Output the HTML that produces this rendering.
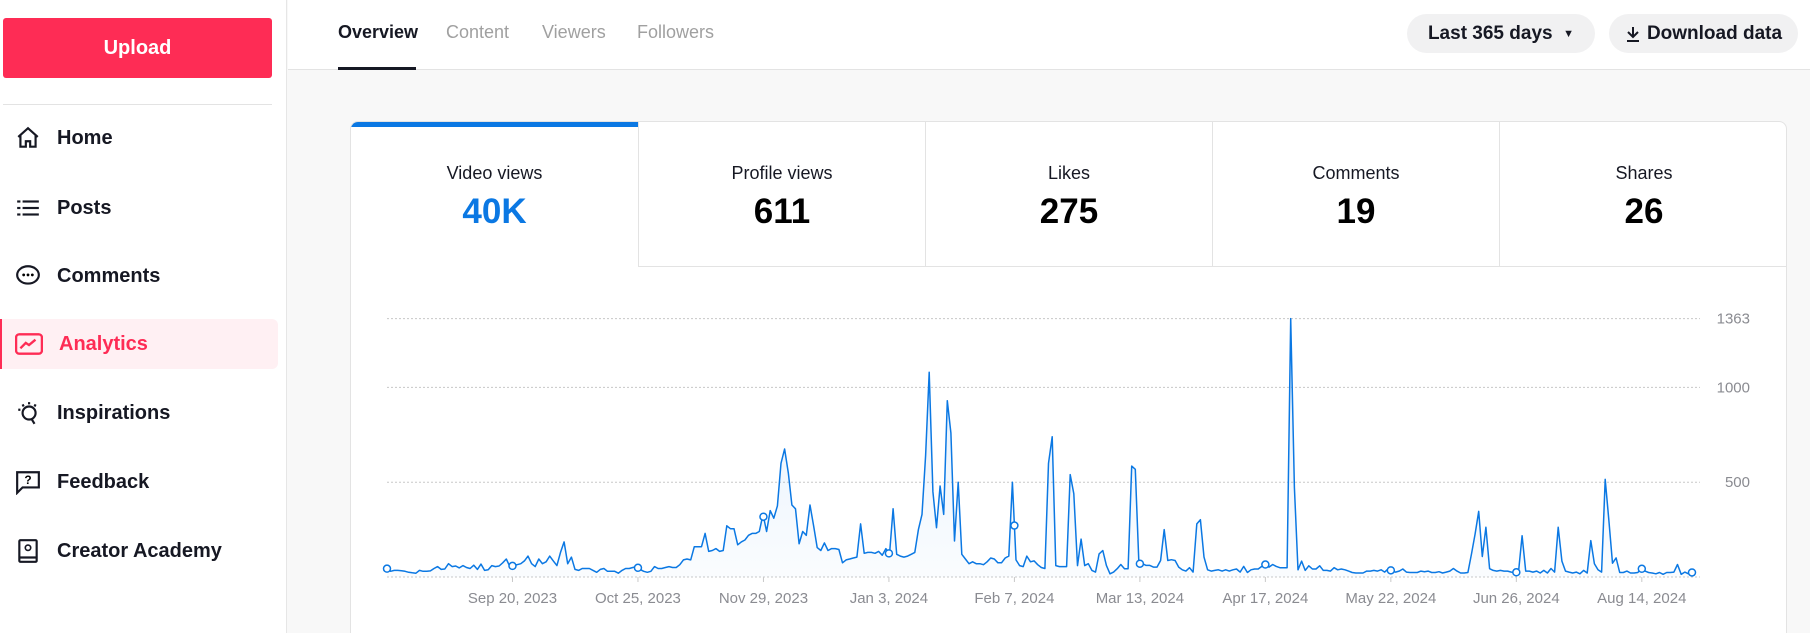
<!DOCTYPE html>
<html><head><meta charset="utf-8">
<style>
*{box-sizing:border-box;margin:0;padding:0}
html,body{width:1810px;height:633px;overflow:hidden}
body{background:#f8f8f8;font-family:"Liberation Sans",sans-serif;position:relative;color:#161823}
.abs{position:absolute}
#sidebar{left:0;top:0;width:287px;height:633px;background:#fff;border-right:1px solid #e6e6e6}
.upload{left:3px;top:18px;width:269px;height:60px;background:#fe2c55;border-radius:3px;color:#fff;font-weight:bold;font-size:20px;display:flex;align-items:center;justify-content:center}
.sep{left:3px;top:104px;width:269px;height:1px;background:#e3e3e3}
.nav{left:0;width:278px;height:50px;display:flex;align-items:center;font-size:20px;font-weight:bold;border-radius:0 6px 6px 0}
.nav svg{position:absolute;left:15px}
.nav span{position:absolute;left:57px}
#header{left:288px;top:0;width:1522px;height:70px;background:#fff;border-bottom:1px solid #e3e3e3}
.tab{top:22px;font-size:18px;color:#a0a0a0}
.pill{top:14px;height:39px;background:#f1f1f2;border-radius:20px;font-size:19px;display:flex;align-items:center;justify-content:center;color:#161823}
#card{left:350px;top:121px;width:1437px;height:540px;background:#fff;border:1px solid #e3e3e3;border-radius:8px;overflow:hidden}
.mt{top:0;width:287px;height:145px;border-left:1px solid #e3e3e3;border-bottom:1px solid #e3e3e3;text-align:center}
.mt .l{position:absolute;top:41px;width:100%;font-size:18px;color:#161823}
.mt .v{position:absolute;top:70px;width:100%;font-size:35px;font-weight:bold;color:#000}
</style></head><body>
<div id="sidebar" class="abs">
 <div class="abs upload">Upload</div>
 <div class="abs sep"></div>
 <div class="abs nav" style="top:113px"><svg width="26" height="26" viewBox="0 0 24 24"><path d="M3 11 L12 3 L21 11 M5 9 V20 H10 V15 H14 V20 H19 V9" fill="none" stroke="#161823" stroke-width="2"/></svg><span>Home</span></div>
 <div class="abs nav" style="top:183px"><svg width="26" height="26" viewBox="0 0 24 24"><g fill="#161823"><rect x="2" y="5" width="3" height="2"/><rect x="7" y="5" width="15" height="2"/><rect x="2" y="11" width="3" height="2"/><rect x="7" y="11" width="15" height="2"/><rect x="2" y="17" width="3" height="2"/><rect x="7" y="17" width="15" height="2"/></g></svg><span>Posts</span></div>
 <div class="abs nav" style="top:251px"><svg width="26" height="26" viewBox="0 0 24 24"><ellipse cx="12" cy="11" rx="10" ry="8" fill="none" stroke="#161823" stroke-width="2"/><circle cx="8" cy="11" r="1.3"/><circle cx="12" cy="11" r="1.3"/><circle cx="16" cy="11" r="1.3"/></svg><span>Comments</span></div>
 <div class="abs nav" style="top:319px;background:#fff0f3;color:#fe2c55;border-left:2px solid #fe2c55"><svg width="28" height="26" viewBox="0 0 26 24" style="left:13px"><rect x="1" y="3" width="24" height="18" rx="3" fill="none" stroke="#fe2c55" stroke-width="2.2"/><path d="M5 16 L10 11 L13 13 L19 8" fill="none" stroke="#fe2c55" stroke-width="2.2"/></svg><span>Analytics</span></div>
 <div class="abs nav" style="top:388px"><svg width="26" height="26" viewBox="0 0 24 24"><circle cx="13" cy="12" r="6" fill="none" stroke="#161823" stroke-width="2"/><path d="M15 17 L18 22" stroke="#161823" stroke-width="2"/><path d="M3 9h2M13 2v2M19 4l-1 2M7 4l1 2" stroke="#161823" stroke-width="2"/></svg><span>Inspirations</span></div>
 <div class="abs nav" style="top:457px"><svg width="26" height="26" viewBox="0 0 24 24"><path d="M2 3 H22 V17 H7 L2 22 Z" fill="none" stroke="#161823" stroke-width="2"/><text x="12" y="14" font-size="11" font-weight="bold" text-anchor="middle" font-family="Liberation Sans">?</text></svg><span>Feedback</span></div>
 <div class="abs nav" style="top:526px"><svg width="26" height="26" viewBox="0 0 24 24"><rect x="4" y="2" width="16" height="20" rx="1" fill="none" stroke="#161823" stroke-width="2"/><path d="M4 18 H20" stroke="#161823" stroke-width="2"/><circle cx="12" cy="9" r="2.5" fill="none" stroke="#161823" stroke-width="1.5"/></svg><span>Creator Academy</span></div>
</div>
<div id="header" class="abs"></div>
<div class="abs tab" style="left:338px;color:#161823;font-weight:bold">Overview</div>
<div class="abs" style="left:338px;top:67px;width:78px;height:3px;background:#161823"></div>
<div class="abs tab" style="left:446px">Content</div>
<div class="abs tab" style="left:542px">Viewers</div>
<div class="abs tab" style="left:637px">Followers</div>
<div class="abs pill" style="left:1407px;width:188px;font-weight:bold">Last 365 days&nbsp;&nbsp;<span style="font-size:11px">▼</span></div>
<div class="abs pill" style="left:1609px;width:189px;font-weight:bold"><svg width="16" height="18" viewBox="0 0 16 18" style="margin-right:6px"><path d="M8 2V12M3 7L8 12L13 7M2 16H14" stroke="#161823" stroke-width="2" fill="none"/></svg>Download data</div>

<div id="card" class="abs">
 <div class="abs mt" style="left:0;border-left:none;border-bottom:none"><div class="abs" style="left:0;top:0;width:287px;height:5px;background:#0b78e3"></div><div class="l">Video views</div><div class="v" style="color:#0b78e3">40K</div></div>
 <div class="abs mt" style="left:287px"><div class="l">Profile views</div><div class="v">611</div></div>
 <div class="abs mt" style="left:574px"><div class="l">Likes</div><div class="v">275</div></div>
 <div class="abs mt" style="left:861px"><div class="l">Comments</div><div class="v">19</div></div>
 <div class="abs mt" style="left:1148px;width:289px"><div class="l">Shares</div><div class="v">26</div></div>
</div>

<svg class="abs" style="left:0;top:0" width="1810" height="633">
 <defs><linearGradient id="fg" x1="0" y1="0" x2="0" y2="1"><stop offset="0" stop-color="#0b78e3" stop-opacity="0.12"/><stop offset="1" stop-color="#0b78e3" stop-opacity="0.02"/></linearGradient></defs>
 <g id="grid"></g><g id="plot"></g><g id="axes"></g>
</svg>
<script>
const views = [44,30,35,35,33,30,25,22,20,35,30,30,32,45,55,40,42,70,55,58,48,60,50,45,62,40,68,35,38,60,55,58,75,95,55,60,65,70,85,110,70,55,95,70,80,110,85,60,130,185,70,105,40,35,45,45,45,35,25,40,45,30,30,30,20,35,45,45,50,55,40,30,25,30,55,45,45,50,55,50,50,65,90,95,90,160,160,160,230,135,140,150,135,140,270,255,255,170,185,195,220,230,230,240,330,240,350,310,375,600,675,550,380,360,175,240,220,380,270,155,140,180,140,150,150,145,75,90,95,100,105,280,125,130,130,125,135,115,150,120,360,120,110,105,110,120,130,250,330,640,1080,450,260,480,330,930,760,190,500,120,95,70,80,70,70,65,80,100,95,75,75,100,110,500,90,60,55,110,80,85,65,50,45,600,740,60,55,55,55,540,440,60,200,60,
70,35,26,122,140,61,17,26,44,66,44,44,585,568,70,70,61,61,52,52,87,250,87,91,87,52,38,31,49,26,280,302,105,38,31,35,38,31,38,31,38,42,26,56,24,38,42,42,56,66,52,66,56,49,49,49,1363,472,38,84,35,59,42,42,59,35,35,31,49,38,42,38,31,24,21,21,21,31,31,35,31,38,26,44,31,26,31,42,26,24,24,24,31,28,31,24,24,28,21,26,31,45,31,21,21,24,122,227,346,108,262,44,35,31,35,31,31,26,24,26,218,31,31,26,31,21,35,21,45,26,262,84,31,26,21,26,17,35,21,192,70,38,26,515,297,73,101,24,24,31,21,21,24,45,31,24,21,17,24,14,24,24,26,66,14,26,17,24];
const yTicks = [500,1000,1363];
const xTickLabels = ["Sep 20, 2023","Oct 25, 2023","Nov 29, 2023","Jan 3, 2024","Feb 7, 2024","Mar 13, 2024","Apr 17, 2024","May 22, 2024","Jun 26, 2024","Aug 14, 2024"];
const xTickDays = [35,70,105,140,175,210,245,280,315,350];
const markerDays = [0,35,70,105,140,175,210,245,280,315,350,364];
const totalDays = 364;

const X0=387,X1=1692,Y0=577,YTOP=318.6,YMAX=1363;
const NS='http://www.w3.org/2000/svg';
const xDay=d=>X0+(d/totalDays)*(X1-X0);
const xIdx=i=>X0+(i/(views.length-1))*(X1-X0);
const y=v=>Y0-(v/YMAX)*(Y0-YTOP);
function mk(tag,attrs,parent){const e=document.createElementNS(NS,tag);for(const k in attrs)e.setAttribute(k,attrs[k]);parent.appendChild(e);return e;}
const grid=document.getElementById('grid'),plot=document.getElementById('plot'),axes=document.getElementById('axes');
[0].concat(yTicks).forEach(t=>{
 const l=mk('line',{x1:X0,x2:1700,y1:y(t),y2:y(t),stroke:'#c8c8c8','stroke-dasharray':'2,2','stroke-width':1},grid);
 
 
});
yTicks.forEach(t=>{
 const tx=mk('text',{x:1750,y:y(t)+5,'text-anchor':'end','font-size':15,fill:'#8a8b91','font-family':'Liberation Sans'},axes);
 tx.textContent=t;
 
 
});
xTickDays.forEach((d,i)=>{
 const tk=mk('line',{x1:xDay(d),x2:xDay(d),y1:Y0,y2:Y0+5,stroke:'#c8c8c8'},axes);
 
 
 const tx=mk('text',{x:xDay(d),y:603,'text-anchor':'middle','font-size':15,fill:'#8a8b91','font-family':'Liberation Sans'},axes);
 tx.textContent=xTickLabels[i];
 
 
});
let pts=views.map((v,i)=>xIdx(i).toFixed(1)+','+y(v).toFixed(1));
const area=mk('path',{d:'M'+X0+','+Y0+' L'+pts.join(' L')+' L'+X1+','+Y0+' Z',fill:'url(#fg)'},plot);


const line=mk('polyline',{points:pts.join(' '),fill:'none',stroke:'#0b78e3','stroke-width':1.5,'stroke-linejoin':'round'},plot);


function valAtDay(d){const f=d/totalDays*(views.length-1);const i=Math.floor(f),j=Math.min(i+1,views.length-1),t=f-i;return views[i]*(1-t)+views[j]*t;}
markerDays.forEach(d=>{
 const c=mk('circle',{cx:xDay(d),cy:y(valAtDay(d)),r:3.5,fill:'#fff',stroke:'#0b78e3','stroke-width':1.5},plot);
 
 
});
</script>
</body></html>
